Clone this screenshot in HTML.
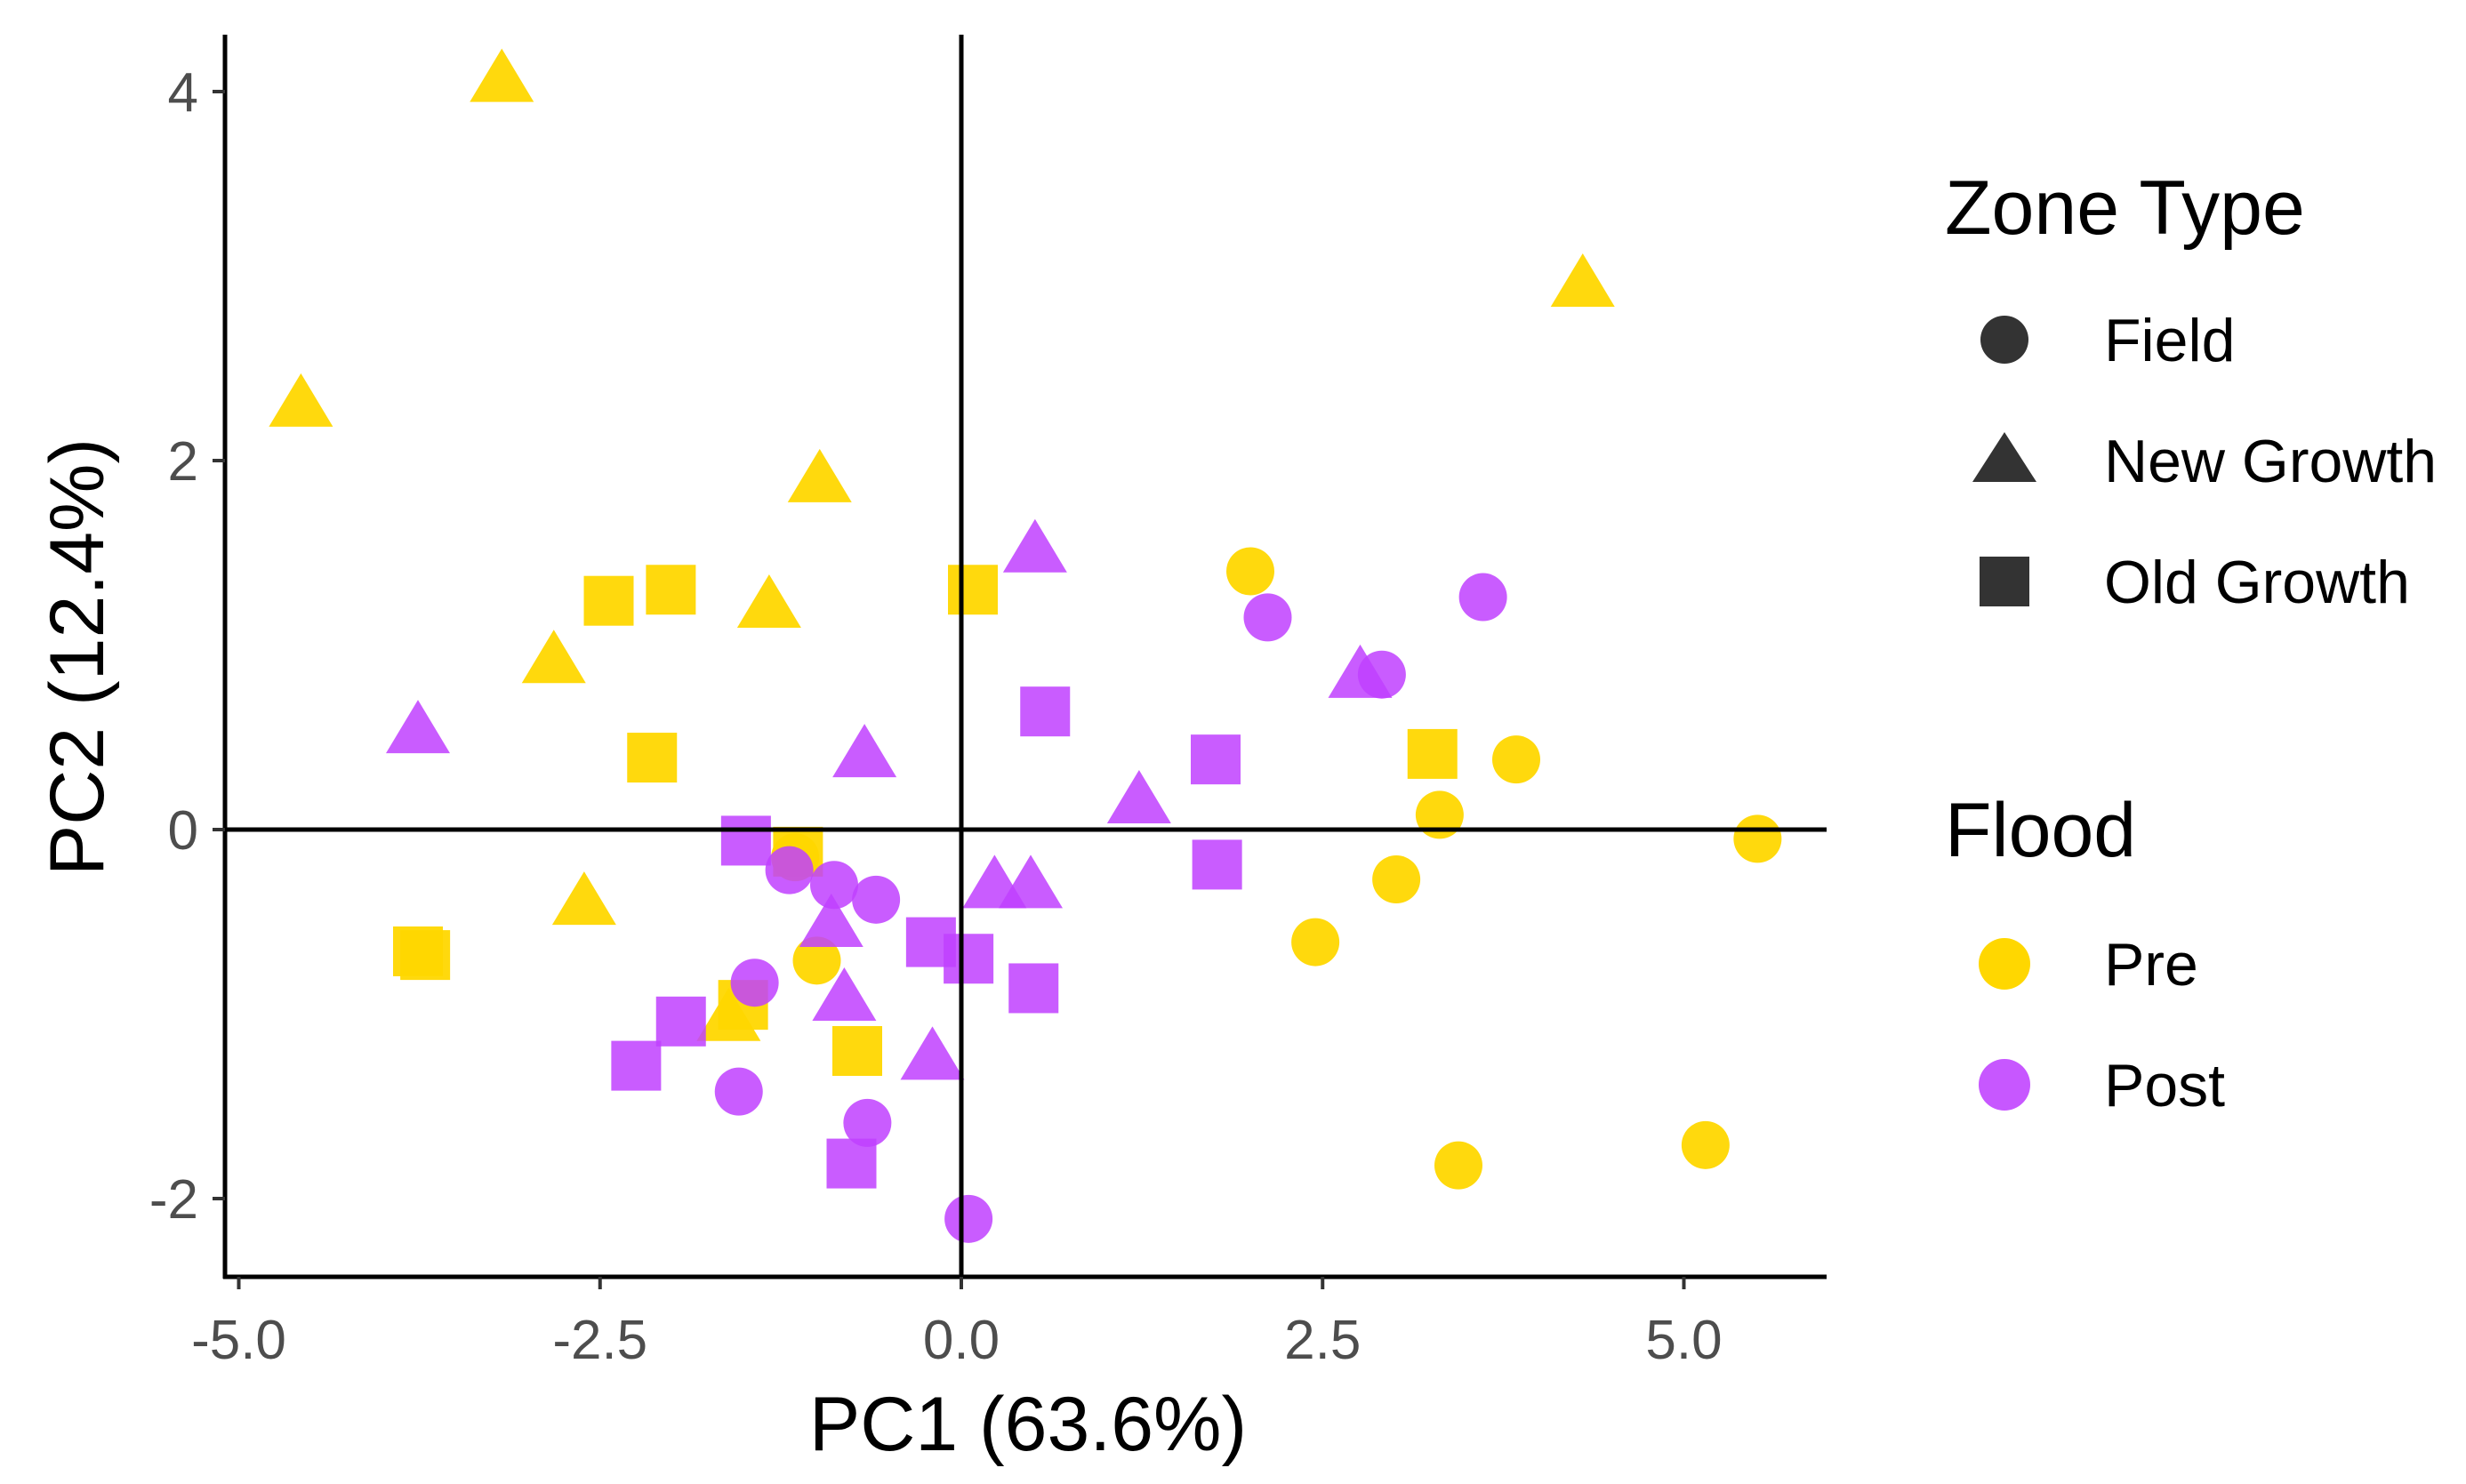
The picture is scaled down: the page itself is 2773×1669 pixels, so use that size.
<!DOCTYPE html>
<html><head><meta charset="utf-8"><style>
html,body{margin:0;padding:0;background:#fff;}
svg{display:block;font-family:"Liberation Sans",sans-serif;}
</style></head><body>
<svg id="chart" width="2773" height="1669" viewBox="0 0 2773 1669" xmlns="http://www.w3.org/2000/svg">
<rect width="2773" height="1669" fill="#fff"/>
<g id="marks"></g>
<g id="axes"></g>
<g id="legend">
 <text x="2187" y="263" font-size="86" fill="#000">Zone Type</text>
 <circle cx="2254" cy="382" r="27" fill="#333"/>
 <text x="2366" y="406" font-size="68" fill="#000">Field</text>
 <polygon points="2254,486 2290,542 2218,542" fill="#333"/>
 <text x="2366" y="542" font-size="68" fill="#000">New Growth</text>
 <rect x="2226" y="626" width="56" height="56" fill="#333"/>
 <text x="2366" y="678" font-size="68" fill="#000">Old Growth</text>
 <text x="2187" y="963" font-size="86" fill="#000">Flood</text>
 <circle cx="2254" cy="1084" r="29" fill="#FFD700"/>
 <text x="2366" y="1108" font-size="68" fill="#000">Pre</text>
 <circle cx="2254" cy="1220" r="29" fill="#BF40FF" fill-opacity="0.88"/>
 <text x="2366" y="1244" font-size="68" fill="#000">Post</text>
</g>
</svg>
<script>
const xTicks = [-5.0, -2.5, 0.0, 2.5, 5.0];
const xTickLabels = ["-5.0", "-2.5", "0.0", "2.5", "5.0"];
const yTicks = [-2, 0, 2, 4];
const yTickLabels = ["-2", "0", "2", "4"];
const preTriX = [-3.18,-4.57,4.30,-0.98,-1.33,-2.82,-2.61,-1.61];
const preTriY = [4.05,2.29,2.94,1.88,1.20,0.90,-0.41,-1.04];
const preSqX = [-2.44,-2.01,0.08,-2.14,-1.13,-3.76,-3.71,-1.51,-0.72,3.26];
const preSqY = [1.24,1.30,1.30,0.39,-0.12,-0.66,-0.68,-0.95,-1.20,0.41];
const preCirX = [2.00,3.84,3.31,3.01,2.45,5.51,5.15,3.44,-1.00,-1.15];
const preCirY = [1.40,0.38,0.08,-0.27,-0.61,-0.05,-1.71,-1.82,-0.71,-0.15];
const postTriX = [-3.76,0.51,-0.67,2.76,1.23,0.23,0.48,-0.90,-0.81,-0.20];
const postTriY = [0.52,1.50,0.39,0.82,0.14,-0.32,-0.32,-0.53,-0.93,-1.25];
const postSqX = [0.58,1.76,1.77,-1.49,-0.21,0.05,0.50,-1.94,-2.25,-0.76];
const postSqY = [0.64,0.38,-0.19,-0.06,-0.61,-0.70,-0.86,-1.04,-1.28,-1.81];
const postCirX = [2.12,2.91,3.61,-1.19,-0.88,-0.59,-1.43,-1.54,-0.65,0.05];
const postCirY = [1.15,0.84,1.26,-0.22,-0.30,-0.38,-0.83,-1.42,-1.59,-2.11];

const NS = "http://www.w3.org/2000/svg";
const X0 = 1081, XS = 162.5;
const Y0 = 933, YS = 207.5;
const L = 253, R = 2054, T = 39, B = 1436;
function sx(v){ return X0 + v*XS; }
function sy(v){ return Y0 - v*YS; }
function mk(tag, attrs, parent){
  const e = document.createElementNS(NS, tag);
  for (const k in attrs) e.setAttribute(k, attrs[k]);
  parent.appendChild(e);
  return e;
}
const marks = document.getElementById('marks');
const axes = document.getElementById('axes');

function drawSeries(xs, ys, shape, color, op, name){
  for (let i = 0; i < xs.length; i++){
    const cx = sx(xs[i]), cy = sy(ys[i]);
    let el;
    if (shape === 'circle'){
      el = mk('circle', {cx: cx, cy: cy, r: 27, fill: color, 'fill-opacity': op}, marks);
    } else if (shape === 'square'){
      el = mk('rect', {x: cx-28, y: cy-28, width: 56, height: 56, fill: color, 'fill-opacity': op}, marks);
    } else {
      const pts = cx+','+(cy-38)+' '+(cx+36)+','+(cy+22)+' '+(cx-36)+','+(cy+22);
      el = mk('polygon', {points: pts, fill: color, 'fill-opacity': op}, marks);
    }
    
    
  }
}
const YEL = '#FFD700', PUR = '#BF40FF';
drawSeries(preTriX, preTriY, 'tri', YEL, 0.95, 'point-pre-new-growth');
drawSeries(preSqX, preSqY, 'square', YEL, 0.95, 'point-pre-old-growth');
drawSeries(preCirX, preCirY, 'circle', YEL, 0.95, 'point-pre-field');
drawSeries(postTriX, postTriY, 'tri', PUR, 0.85, 'point-post-new-growth');
drawSeries(postSqX, postSqY, 'square', PUR, 0.85, 'point-post-old-growth');
drawSeries(postCirX, postCirY, 'circle', PUR, 0.85, 'point-post-field');

let e;
e = mk('line', {x1: sx(0), x2: sx(0), y1: T, y2: B, stroke: '#000', 'stroke-width': 5}, axes);


e = mk('line', {x1: L, x2: R, y1: sy(0), y2: sy(0), stroke: '#000', 'stroke-width': 5}, axes);


e = mk('line', {x1: L, x2: L, y1: T, y2: B+2, stroke: '#000', 'stroke-width': 5}, axes);


e = mk('line', {x1: L-2, x2: R, y1: B, y2: B, stroke: '#000', 'stroke-width': 5}, axes);



for (let i = 0; i < xTicks.length; i++){
  const x = sx(xTicks[i]);
  e = mk('line', {x1: x, x2: x, y1: B, y2: B+14, stroke: '#333', 'stroke-width': 4}, axes);
  
  
  e = mk('text', {x: x, y: B+92, 'font-size': 62, fill: '#4d4d4d', 'text-anchor': 'middle'}, axes);
  e.textContent = xTickLabels[i];
  
  
}
for (let i = 0; i < yTicks.length; i++){
  const y = sy(yTicks[i]);
  e = mk('line', {x1: L-14, x2: L, y1: y, y2: y, stroke: '#333', 'stroke-width': 4}, axes);
  
  
  e = mk('text', {x: L-30, y: y+22, 'font-size': 62, fill: '#4d4d4d', 'text-anchor': 'end'}, axes);
  e.textContent = yTickLabels[i];
  
  
}
e = mk('text', {x: 1156, y: 1631, 'font-size': 86, fill: '#000', 'text-anchor': 'middle'}, axes);
e.textContent = 'PC1 (63.6%)';


e = mk('text', {x: 0, y: 0, 'font-size': 86, fill: '#000', 'text-anchor': 'middle', transform: 'translate(116,739) rotate(-90)'}, axes);
e.textContent = 'PC2 (12.4%)';


</script>
</body></html>
